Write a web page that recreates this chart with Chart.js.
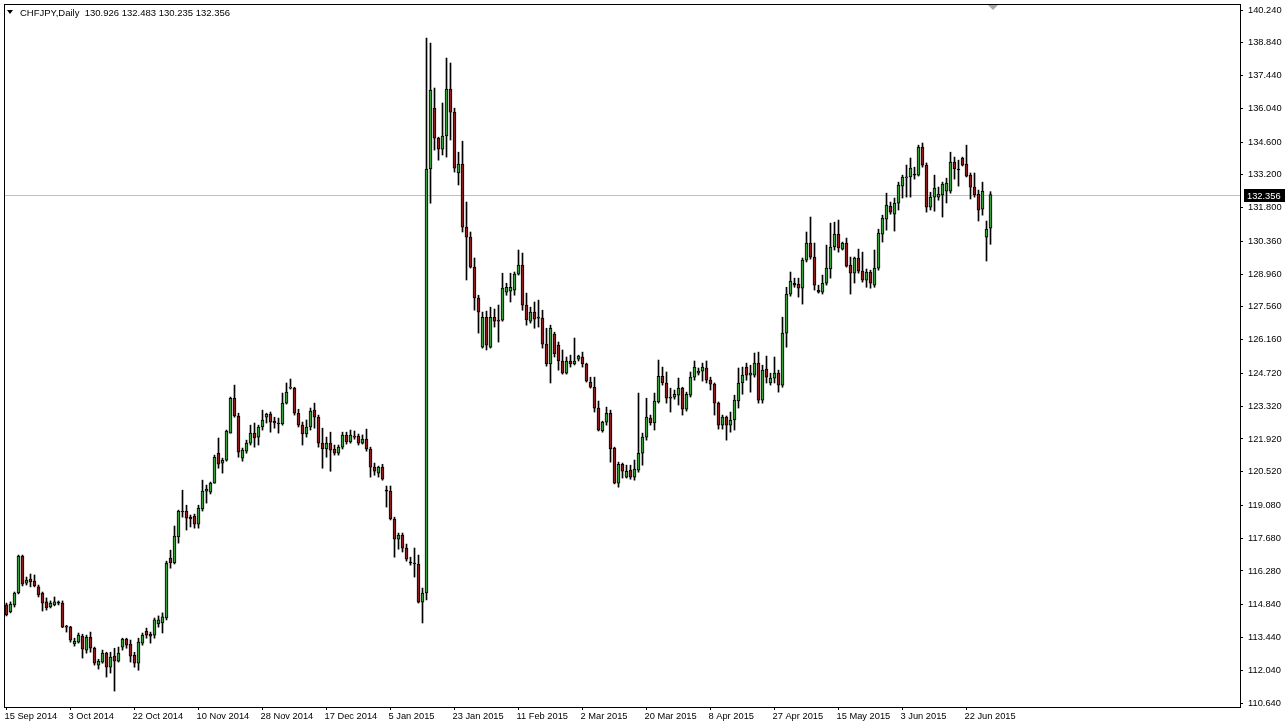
<!DOCTYPE html>
<html>
<head>
<meta charset="utf-8">
<title>CHFJPY Daily</title>
<script src="https://cdn.jsdelivr.net/npm/chart.js@4.4.0/dist/chart.umd.min.js"></script>
<style>
  html, body { margin: 0; padding: 0; background: #fff; }
  #wrap { width: 1287px; height: 727px; }
</style>
</head>
<body>
<div id="wrap"><canvas id="chfjpy" width="1287" height="727"></canvas></div>
<script>
const header = "CHFJPY,Daily  130.926 132.483 130.235 132.356";
const lastPrice = 132.356;
const barsPerLabel = 16;

const dateLabels = ["15 Sep 2014", "3 Oct 2014", "22 Oct 2014", "10 Nov 2014", "28 Nov 2014", "17 Dec 2014",
  "5 Jan 2015", "23 Jan 2015", "11 Feb 2015", "2 Mar 2015", "20 Mar 2015", "8 Apr 2015",
  "27 Apr 2015", "15 May 2015", "3 Jun 2015", "22 Jun 2015"];

const priceTicks = [140.24, 138.84, 137.44, 136.04, 134.60, 133.20, 131.80, 130.36, 128.96, 127.56, 126.16,
  124.72, 123.32, 121.92, 120.52, 119.08, 117.68, 116.28, 114.84, 113.44, 112.04, 110.64];

const opens = [
  114.83,114.53,114.83,115.34,116.92,115.76,115.93,115.85,115.60,115.34,
  114.96,114.74,114.83,114.91,114.91,113.92,113.88,113.16,113.24,113.50,
  112.90,113.45,112.98,112.26,112.39,112.77,112.17,112.64,112.43,113.03,
  113.37,113.16,112.68,112.34,113.20,113.71,113.58,113.54,114.02,114.06,
  114.27,116.83,116.62,117.73,118.84,118.84,118.58,118.63,118.28,118.93,
  119.69,119.65,120.03,121.31,120.89,121.01,122.17,123.66,122.90,121.10,
  121.40,121.74,122.17,122.00,122.43,122.85,122.98,122.68,122.60,122.56,
  123.45,124.09,124.09,123.02,122.51,122.13,122.43,123.15,122.85,121.74,
  121.49,121.74,121.49,121.31,121.57,122.09,121.79,122.04,122.04,121.74,
  121.91,121.49,120.72,120.46,120.72,119.69,119.69,118.50,117.64,117.81,
  117.26,116.62,116.62,116.58,114.95,115.34,133.45,136.05,134.77,134.30,
  134.86,136.87,135.88,133.28,133.66,130.97,130.54,129.26,127.94,125.84,
  127.12,125.84,127.12,126.99,126.99,128.19,128.23,128.28,128.96,129.35,
  127.64,126.95,127.34,127.12,127.08,125.97,125.12,126.40,125.93,125.25,
  124.73,125.25,125.12,125.33,125.42,125.12,124.35,124.13,123.24,122.26,
  122.64,123.02,121.53,120.03,120.84,120.29,120.59,120.29,120.59,121.31,
  122.00,122.81,122.60,123.50,124.60,124.31,123.71,123.71,123.79,124.09,
  123.19,123.79,124.56,124.73,124.82,124.95,124.43,124.26,123.45,122.51,
  122.85,122.51,122.73,123.54,124.31,124.99,124.65,124.65,125.16,123.58,
  124.90,124.31,124.52,124.73,124.22,126.44,128.11,128.57,128.53,128.36,
  129.56,130.29,129.69,128.28,128.19,128.57,129.18,130.12,130.67,130.03,
  130.29,129.35,129.00,129.65,129.09,128.70,129.05,128.49,129.22,130.67,
  131.31,131.86,131.52,131.99,132.72,133.07,133.11,133.19,133.19,134.39,
  133.62,131.82,132.25,132.25,132.34,132.51,132.51,133.75,133.41,133.92,
  133.66,133.19,132.68,132.38,131.74,130.54,130.926
];

const highs = [
  114.91,114.96,115.38,116.96,116.96,116.02,116.15,116.11,115.68,115.38,
  115.13,115.00,115.17,115.00,115.00,113.96,113.92,113.41,113.63,113.58,
  113.54,113.67,113.03,112.51,112.90,112.81,112.81,112.98,113.03,113.41,
  113.41,113.33,112.81,113.41,113.63,113.84,113.67,114.27,114.36,114.49,
  116.70,117.17,118.20,118.88,119.73,119.09,118.67,118.71,119.09,120.16,
  119.95,120.08,121.23,121.96,121.10,122.30,123.71,124.22,123.02,121.53,
  121.87,122.51,122.60,122.51,123.15,123.02,123.07,122.85,122.81,123.88,
  124.31,124.48,124.13,123.19,122.64,122.73,123.24,123.45,122.94,122.38,
  122.00,122.21,121.66,121.66,122.21,122.21,122.30,122.26,122.13,122.09,
  122.34,121.57,120.89,120.76,120.84,119.91,119.91,118.58,117.90,117.90,
  117.43,116.87,117.26,116.96,115.55,139.04,138.83,136.91,134.81,136.27,
  138.19,137.98,136.05,134.17,134.64,132.04,130.76,129.65,128.06,127.34,
  127.38,127.55,127.47,127.64,129.00,128.57,129.00,129.05,129.99,129.86,
  128.15,127.55,127.77,127.85,127.42,126.65,126.78,126.48,126.06,125.72,
  125.42,125.50,126.23,125.50,125.63,125.16,124.56,124.56,123.54,122.68,
  123.28,123.15,121.57,120.93,120.89,120.80,120.80,121.02,123.88,122.17,
  123.66,122.94,123.88,125.29,124.99,124.78,124.09,124.01,124.52,124.13,
  123.92,124.78,125.25,124.95,125.16,125.25,124.56,124.31,123.50,122.94,
  122.90,123.07,123.79,124.95,124.99,125.16,125.07,125.59,125.63,125.07,
  125.46,124.73,125.42,124.86,127.12,128.40,129.05,128.79,128.79,129.65,
  130.76,131.40,130.29,128.49,128.92,130.20,131.14,131.18,131.27,130.33,
  130.50,129.69,129.69,130.03,129.90,129.18,129.13,129.99,130.88,131.48,
  132.42,132.04,132.21,132.89,133.19,133.62,133.92,133.53,134.47,134.56,
  133.71,132.46,133.19,132.68,132.89,133.06,134.17,133.96,133.83,133.96,
  134.47,133.28,133.28,132.55,132.89,131.23,132.483
];

const lows = [
  114.36,114.49,114.74,115.30,115.64,115.68,115.60,115.60,115.17,114.57,
  114.61,114.70,114.79,114.83,113.86,113.67,113.24,113.07,113.20,112.56,
  112.77,112.81,112.26,112.09,112.34,111.75,111.92,111.15,112.39,112.90,
  112.98,112.39,112.17,112.04,113.11,113.41,113.20,113.41,113.88,113.63,
  114.19,116.40,116.58,117.47,118.58,118.03,118.16,118.11,118.11,118.84,
  119.18,119.57,120.03,120.67,120.46,120.97,122.17,122.85,121.14,120.97,
  121.31,121.66,121.57,121.66,122.30,122.60,122.21,122.38,122.17,122.51,
  123.41,124.05,122.94,122.43,121.66,122.00,122.30,122.38,121.57,120.67,
  121.14,120.54,121.23,121.23,121.49,121.70,121.74,121.91,121.66,121.70,
  121.40,120.29,120.37,120.29,120.16,119.01,118.46,116.87,117.21,117.09,
  116.70,116.53,116.02,114.91,114.06,115.04,131.99,134.26,133.83,134.05,
  133.96,134.69,133.32,132.77,130.76,128.71,129.22,127.42,126.44,125.80,
  125.72,125.80,126.70,126.06,126.95,128.06,127.77,128.06,128.92,127.42,
  126.78,126.87,126.65,126.70,125.80,125.03,124.31,125.42,124.86,124.69,
  124.69,124.99,125.08,125.25,124.99,124.35,124.09,123.07,122.26,122.21,
  122.51,120.93,120.00,119.86,120.25,120.25,120.20,120.16,120.50,120.80,
  121.87,122.51,122.30,123.45,124.22,123.45,123.07,123.62,123.37,122.94,
  123.11,123.71,124.43,124.65,124.39,124.31,124.01,122.94,122.34,122.34,
  121.87,122.21,122.30,123.24,123.83,124.43,123.92,124.56,123.45,123.45,
  124.31,124.22,124.31,123.92,124.13,125.84,128.02,128.40,127.98,127.68,
  129.48,129.60,128.28,128.15,128.11,128.49,128.79,129.99,129.90,129.99,
  129.26,128.11,128.58,129.00,128.62,128.40,128.36,128.40,129.13,130.33,
  130.84,131.52,130.80,131.70,132.21,132.25,132.25,133.02,133.15,133.53,
  131.61,131.70,131.65,132.12,131.40,132.00,132.42,133.02,132.72,133.58,
  133.11,132.17,132.25,131.23,131.48,129.52,130.235
];

const closes = [
  114.40,114.87,115.34,116.92,115.72,115.89,115.81,115.64,115.26,114.91,
  114.70,114.91,114.96,114.91,113.88,113.88,113.33,113.28,113.54,112.94,
  113.45,112.98,112.34,112.43,112.77,112.17,112.60,112.43,112.77,113.37,
  113.11,112.64,112.34,113.24,113.54,113.54,113.50,114.19,114.19,114.32,
  116.62,116.62,117.77,118.84,118.80,118.54,118.50,118.28,118.97,119.69,
  119.78,120.03,121.14,120.84,121.01,122.26,123.66,122.90,121.36,121.44,
  121.74,122.17,121.96,122.43,122.73,122.98,122.64,122.60,122.56,123.45,
  123.92,124.13,123.02,122.51,122.13,122.43,123.11,122.85,121.74,121.49,
  121.74,121.44,121.31,121.57,122.09,121.79,122.09,122.00,121.74,121.91,
  121.49,120.72,120.54,120.72,120.20,119.69,118.50,117.64,117.81,117.26,
  116.79,116.62,116.58,114.95,115.34,133.45,136.82,134.77,134.30,134.86,
  136.87,135.88,133.49,133.66,130.97,130.54,129.26,127.94,127.34,127.12,
  125.93,127.12,126.95,126.95,128.36,128.40,128.40,128.96,129.35,127.64,
  127.00,127.34,127.04,127.08,125.97,125.12,126.65,125.55,125.25,124.73,
  125.25,125.12,125.25,125.46,125.12,124.39,124.13,123.24,122.30,122.64,
  123.02,121.49,120.03,120.84,120.54,120.54,120.29,120.63,121.31,122.00,
  122.85,122.60,123.54,124.60,124.31,123.66,123.66,123.83,124.09,123.19,
  123.83,124.56,124.99,124.82,124.99,124.43,124.26,123.45,122.51,122.85,
  122.51,122.73,123.58,124.31,124.65,124.65,124.73,125.16,123.58,124.86,
  124.56,124.52,124.73,124.22,126.44,128.11,128.66,128.49,128.36,129.56,
  130.29,129.69,128.49,128.19,128.57,129.22,130.12,130.67,130.08,130.29,
  129.30,129.00,129.65,129.09,128.70,129.05,128.57,129.22,130.71,131.35,
  131.91,131.61,131.99,132.76,133.11,133.11,133.49,133.19,134.39,133.62,
  131.82,132.25,132.64,132.38,132.81,132.85,133.75,133.45,133.41,133.62,
  133.15,132.68,132.34,131.69,132.51,130.88,132.356
];

const bullColor = '#3a9f3a';
const bearColor = '#8e1c1c';
const font = { family: 'Liberation Sans, Arial, sans-serif', size: 9.3 };

const idx = opens.map((_, i) => i);
const bodies = idx.map(i => ({ x: i, y: [opens[i], closes[i]] }));
const wicks = idx.map(i => ({ x: i, y: [lows[i], highs[i]] }));
const bodyFill = idx.map(i => closes[i] > opens[i] ? bullColor : (closes[i] < opens[i] ? bearColor : '#000'));

// axis boxes keep a fixed size, no extra room for overflowing labels
function fixBox(s, w, h) {
    if (w) s.width = w;
    if (h) s.height = h;
    s.paddingTop = 0;
    s.paddingBottom = 0;
    s.paddingLeft = 0;
    s.paddingRight = 0;
}

// bid line, frame, price tag and the header text of the terminal window
const terminal = {
    id: 'terminal',
    beforeDatasetsDraw(chart) {
        const { ctx, chartArea: a, scales: { y } } = chart;
        const py = Math.round(y.getPixelForValue(lastPrice)) + 0.5;
        ctx.save();
        ctx.strokeStyle = '#c0c0c0';
        ctx.lineWidth = 1;
        ctx.beginPath();
        ctx.moveTo(a.left, py);
        ctx.lineTo(a.right, py);
        ctx.stroke();
        ctx.restore();
    },
    afterDraw(chart) {
        const { ctx, chartArea: a, scales: { y } } = chart;
        ctx.save();
        ctx.strokeStyle = '#000';
        ctx.lineWidth = 1;
        ctx.strokeRect(a.left + 0.5, a.top + 0.5, a.right - a.left, a.bottom - a.top);

        // price tag on the right axis
        const py = Math.round(y.getPixelForValue(lastPrice));
        ctx.fillStyle = '#000';
        ctx.fillRect(a.right + 4, py - 6, 41, 13);
        ctx.fillStyle = '#fff';
        ctx.font = '9.3px Liberation Sans, Arial, sans-serif';
        ctx.textBaseline = 'middle';
        ctx.textAlign = 'left';
        ctx.fillText(lastPrice.toFixed(3), a.right + 7, py + 1);

        // header
        ctx.fillStyle = '#000';
        ctx.beginPath();
        ctx.moveTo(7, 10); ctx.lineTo(13, 10); ctx.lineTo(10, 14); ctx.closePath();
        ctx.fill();
        ctx.font = '9.5px Liberation Sans, Arial, sans-serif';
        ctx.fillText(header, 20, 13);

        // chart shift marker
        ctx.fillStyle = '#a8a8a8';
        ctx.beginPath();
        ctx.moveTo(988, 5); ctx.lineTo(998, 5); ctx.lineTo(993, 10); ctx.closePath();
        ctx.fill();
        ctx.restore();
    }
};

new Chart(document.getElementById('chfjpy'), {
    type: 'bar',
    data: {
        datasets: [
            {
                label: 'body',
                data: bodies,
                backgroundColor: bodyFill,
                borderColor: '#000',
                borderWidth: 1,
                borderSkipped: false,
                barThickness: 3,
                minBarLength: 1,
                grouped: false,
                order: 0
            },
            {
                label: 'wick',
                data: wicks,
                backgroundColor: '#000',
                borderWidth: 0,
                barThickness: 1,
                grouped: false,
                order: 1
            }
        ]
    },
    options: {
        responsive: false,
        animation: false,
        layout: { padding: { left: 4, top: 4, right: 0, bottom: 0 } },
        plugins: {
            legend: { display: false },
            tooltip: { enabled: false },
            title: { display: false }
        },
        scales: {
            x: {
                type: 'linear',
                offset: false,
                min: -0.625,
                max: 308.375,
                afterBuildTicks: s => { s.ticks = dateLabels.map((_, k) => ({ value: k * barsPerLabel })); },
                afterFit: s => fixBox(s, 0, 20),
                grid: { drawOnChartArea: false, offset: false, tickLength: 3, color: '#000' },
                border: { display: false },
                ticks: {
                    autoSkip: false,
                    maxRotation: 0,
                    minRotation: 0,
                    align: 'start',
                    labelOffset: -2,
                    padding: 1,
                    color: '#000',
                    font,
                    callback: (v, i) => dateLabels[i]
                }
            },
            y: {
                position: 'right',
                min: 110.47,
                max: 140.50,
                afterBuildTicks: s => { s.ticks = priceTicks.map(v => ({ value: v })); },
                afterFit: s => fixBox(s, 47, 0),
                grid: { drawOnChartArea: false, tickLength: 3, color: '#000' },
                border: { display: false },
                ticks: {
                    padding: 5,
                    color: '#000',
                    font,
                    callback: v => v.toFixed(3)
                }
            }
        }
    },
    plugins: [terminal]
});
</script>
</body>
</html>
